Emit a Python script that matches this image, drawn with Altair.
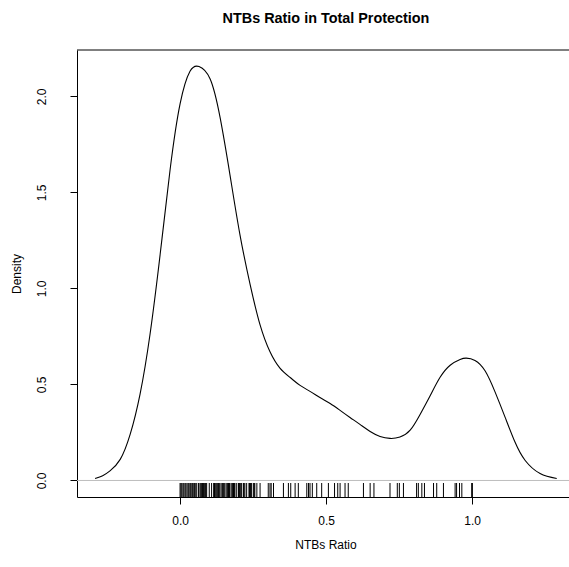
import altair as alt
import pandas as pd

# Density curve
curve_x = [-0.291, -0.265, -0.24, -0.205, -0.171, -0.137, -0.103, -0.068, -0.034, 0.0,
           0.034, 0.065, 0.103, 0.137, 0.171, 0.205, 0.24, 0.274, 0.308, 0.342,
           0.377, 0.411, 0.445, 0.479, 0.514, 0.548, 0.582, 0.616, 0.651, 0.685,
           0.719, 0.753, 0.788, 0.822, 0.856, 0.89, 0.925, 0.959, 0.98, 1.01,
           1.045, 1.079, 1.113, 1.147, 1.182, 1.233, 1.29]
curve_y = [0.01, 0.025, 0.05, 0.11, 0.24, 0.45, 0.76, 1.18, 1.62, 1.96,
           2.13, 2.155, 2.09, 1.89, 1.59, 1.28, 1.02, 0.81, 0.67, 0.585,
           0.536, 0.495, 0.464, 0.432, 0.401, 0.365, 0.328, 0.292, 0.255, 0.229,
           0.219, 0.226, 0.262, 0.344, 0.44, 0.536, 0.6, 0.63, 0.637, 0.625,
           0.57, 0.46, 0.33, 0.2, 0.104, 0.036, 0.01]

rug_values = [0.0, 0.003, 0.006, 0.01, 0.013, 0.017, 0.02, 0.024, 0.028, 0.031,
              0.035, 0.038, 0.042, 0.045, 0.049, 0.052, 0.057, 0.063, 0.068, 0.071,
              0.074, 0.077, 0.08, 0.083, 0.086, 0.088, 0.091, 0.1, 0.108, 0.115,
              0.118, 0.12, 0.123, 0.126, 0.129, 0.132, 0.134, 0.137, 0.143, 0.146,
              0.148, 0.151, 0.154, 0.16, 0.163, 0.166, 0.169, 0.171, 0.177, 0.18,
              0.183, 0.186, 0.188, 0.194, 0.2, 0.203, 0.205, 0.208, 0.211, 0.217,
              0.219, 0.222, 0.228, 0.236, 0.238, 0.241, 0.245, 0.251, 0.254, 0.256,
              0.263, 0.274, 0.302, 0.308, 0.312, 0.32, 0.354, 0.371, 0.379, 0.394,
              0.405, 0.434, 0.44, 0.445, 0.453, 0.468, 0.485, 0.508, 0.529, 0.54,
              0.548, 0.565, 0.576, 0.628, 0.651, 0.664, 0.719, 0.744, 0.751, 0.765,
              0.81, 0.816, 0.828, 0.837, 0.868, 0.879, 0.902, 0.942, 0.947, 0.957,
              0.965, 1.0, 1.0, 1.0]

x_ticks = [0.0, 0.5, 1.0]
y_ticks = [0.0, 0.5, 1.0, 1.5, 2.0]

title_text = "NTBs Ratio in Total Protection"
x_title = "NTBs Ratio"
y_title = "Density"

W, H = 492, 447
FONT = "Liberation Sans"

curve_df = pd.DataFrame({"x": curve_x, "y": curve_y})
rug_df = pd.DataFrame({"x": rug_values})

xscale = alt.Scale(domain=[-0.353, 1.332], nice=False, zero=False)
yscale = alt.Scale(domain=[-0.086, 2.241], nice=False, zero=False)

xaxis = alt.Axis(values=x_ticks, format=".1f", title=None, grid=False,
                 tickSize=7, tickColor="black", domainColor="black",
                 labelFont=FONT, labelFontSize=12, labelColor="black",
                 labelPadding=11)
yaxis = alt.Axis(values=y_ticks, format=".1f", title=None, grid=False,
                 tickSize=7, tickColor="black", domainColor="black",
                 labelFont=FONT, labelFontSize=12, labelColor="black",
                 labelAngle=270, labelAlign="center", labelBaseline="bottom",
                 labelPadding=22)

zero_line = alt.Chart(pd.DataFrame({"y": [0.0]})).mark_rule(
    color="#bebebe", strokeWidth=1
).encode(y=alt.Y("y:Q", scale=yscale, axis=yaxis))

line = alt.Chart(curve_df).mark_line(
    color="black", strokeWidth=1.1, interpolate="natural"
).encode(
    x=alt.X("x:Q", scale=xscale, axis=xaxis),
    y=alt.Y("y:Q", scale=yscale, axis=yaxis),
)

rug = alt.Chart(rug_df).mark_rule(color="black", strokeWidth=1).encode(
    x=alt.X("x:Q", scale=xscale, axis=xaxis),
    y=alt.value(H),
    y2=alt.value(H - 14),
)

top_rule = alt.Chart(pd.DataFrame({"a": [0]})).mark_rule(color="black", strokeWidth=1).encode(
    x=alt.value(0), x2=alt.value(W), y=alt.value(0)
)

title = alt.Chart(pd.DataFrame({"t": [title_text]})).mark_text(
    font=FONT, fontSize=14.4, fontWeight="bold", color="black",
    align="center", baseline="middle"
).encode(x=alt.value(249), y=alt.value(-31), text="t:N")

xlab = alt.Chart(pd.DataFrame({"t": [x_title]})).mark_text(
    font=FONT, fontSize=12, color="black", align="center", baseline="middle"
).encode(x=alt.value(249), y=alt.value(495), text="t:N")

ylab = alt.Chart(pd.DataFrame({"t": [y_title]})).mark_text(
    font=FONT, fontSize=12, color="black", align="center", baseline="middle", angle=270
).encode(x=alt.value(-60), y=alt.value(224), text="t:N")

chart = alt.layer(zero_line, line, rug, top_rule, title, xlab, ylab).properties(
    width=W, height=H,
    autosize=alt.AutoSizeParams(type="none"),
    padding={"left": 77, "top": 50, "right": 0, "bottom": 70},
    background="white",
).configure_view(stroke=None)

chart.save("out.html", embed_options={"renderer": "svg", "actions": False})
